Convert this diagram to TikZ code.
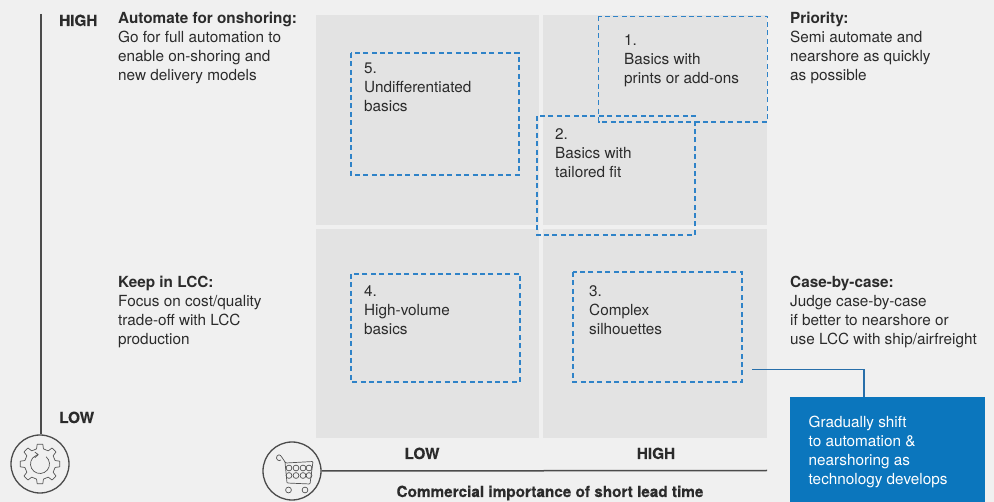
\documentclass[tikz,border=0pt]{standalone}
\usepackage{fontspec}
\setmainfont{TeX Gyre Heros}
\usetikzlibrary{arrows.meta,calc}
\definecolor{bgc}{HTML}{F0F0F0}
\definecolor{quad}{HTML}{E3E3E3}
\definecolor{dash}{HTML}{2F83C8}
\definecolor{bluebox}{HTML}{0B76BD}
\definecolor{ink}{HTML}{2B2B2B}
\definecolor{iconc}{HTML}{555555}
\tikzset{
  quadrant/.style={fill=quad,draw=none},
  dashbox/.style={draw=dash,line width=1.7pt,dash pattern=on 5pt off 3.4pt},
  txt/.style={anchor=north west,inner sep=0pt,align=left,text=ink,font=\fontsize{15.3}{19}\selectfont},
  lvl/.style={anchor=base west,inner sep=0pt,text=ink,font=\fontsize{15.3}{19}\selectfont\bfseries\addfontfeature{FakeBold=0.4}},
  axisline/.style={draw=ink!85,line width=1.5pt},
  ring/.style={circle,draw=ink!85,line width=1.3pt,minimum size=58pt,inner sep=0pt,fill=none},
  icon/.style={draw=iconc,line width=0.7pt},
  conn/.style={draw=dash!85!black,line width=1.4pt},
}
\begin{document}
\begin{tikzpicture}[x=1pt,y=-1pt]
\useasboundingbox (0,0) rectangle (994,502);
\fill[bgc] (0,0) rectangle (994,502);
% quadrants
\fill[quadrant] (316,15) rectangle (539,225);
\fill[quadrant] (543,15) rectangle (767,225);
\fill[quadrant] (316,229) rectangle (539,438);
\fill[quadrant] (543,229) rectangle (767,438);
% dashed boxes
\coordinate (c3) at (742,382);
\draw[dashbox] (598.5,16.5) rectangle (767.5,122);
\draw[dashbox] (537,116) rectangle (695,235);
\draw[dashbox] (351,53) rectangle (519,175);
\draw[dashbox] (351,274) rectangle (520,382);
\draw[dashbox] (573,272) rectangle (742,382);
% box labels
\node[txt] (n1) at (624,34) {1.\\Basics with\\prints or add-ons};
\node[txt] (n2) at (555,128) {2.\\Basics with\\tailored fit};
\node[txt] (n3) at (589,285) {3.\\Complex\\silhouettes};
\node[txt] (n4) at (364,285) {4.\\High-volume\\basics};
\node[txt] (n5) at (364,63) {5.\\Undifferentiated\\basics};
% side labels
\node[txt] (t1) at (118,12) {\textbf{Automate for onshoring:}\\Go for full automation to\\enable on-shoring and\\new delivery models};
\node[txt] (t2) at (790,12) {\textbf{Priority:}\\Semi automate and\\nearshore as quickly\\as possible};
\node[txt] (t3) at (118,276) {\textbf{Keep in LCC:}\\Focus on cost/quality\\trade-off with LCC\\production};
\node[txt] (t4) at (790,276) {\textbf{Case-by-case:}\\Judge case-by-case\\if better to nearshore or\\use LCC with ship/airfreight};
% axis labels
\node[lvl] (high) at (59,26) {HIGH};
\node[lvl] (low) at (59,423) {LOW};
\node[lvl,anchor=base] (xlow) at (422,459) {LOW};
\node[lvl,anchor=base] (xhigh) at (656,459) {HIGH};
\node[lvl,anchor=base] (xtitle) at (550,497) {Commercial importance of short lead time};
% axes with icon rings
\node[ring] (gear) at (40,464) {};
\node[ring] (cart) at (292,471) {};
\coordinate (ytop) at (41,14);
\coordinate (xend) at (767,470.5);
\draw[axisline] (ytop) -- (ytop |- gear.north);
\draw[axisline] (cart.east) -- (xend);
% gear icon
\begin{scope}[shift={(gear.center)}]
\draw[icon,line join=round]
  \foreach \i [evaluate=\i as \a using \i*45] in {0,...,7} {
    \ifnum\i=0 ({\a-13}:15.5)\else -- ({\a-13}:15.5)\fi
    -- ({\a-8}:20) -- ({\a+8}:20) -- ({\a+13}:15.5)
  } -- cycle;
\draw[icon] (-50:9.5) arc (-50:250:9.5);
\draw[icon] (-111:9.5) -- (-100:9.5) ++(0,0) -- +(-3.5,-2.5) (-100:9.5) -- +(-3.5,3);
\end{scope}
% cart icon
\begin{scope}[shift={(cart.center)}]
\draw[icon,rounded corners=0.8pt] (-15,-15) .. controls (-12,-18) and (-11,-15) .. (-7,-9) -- (-6,-8) -- (21,-9.5) -- (18,13) -- (-5,12) -- (-7,-9);
\draw[icon] (-15,-15) .. controls (-17,-12) and (-13,-9) .. (-11,-11);
\foreach \x in {-2,5,12,18} { \draw[icon] ({\x-1},-3) circle (2.9); \draw[icon] ({\x-1},4.5) circle (2.9); }
\draw[icon] (-3.5,19) circle (2.9);
\draw[icon] (13,19) circle (2.9);
\end{scope}
% blue box + connector
\node[fill=bluebox,minimum width=195pt,minimum height=105pt,inner sep=0pt,anchor=north west] (callout) at (790,397) {};
\node[txt,text=white,font=\fontsize{15.3}{19}\selectfont] (calloutxt) at (808.5,416) {Gradually shift\\to automation \&\\nearshoring as\\technology develops};
\coordinate (cstart) at (752,369.5);
\draw[conn] (cstart) -| (callout.north -| 864,397);
\end{tikzpicture}
\end{document}
